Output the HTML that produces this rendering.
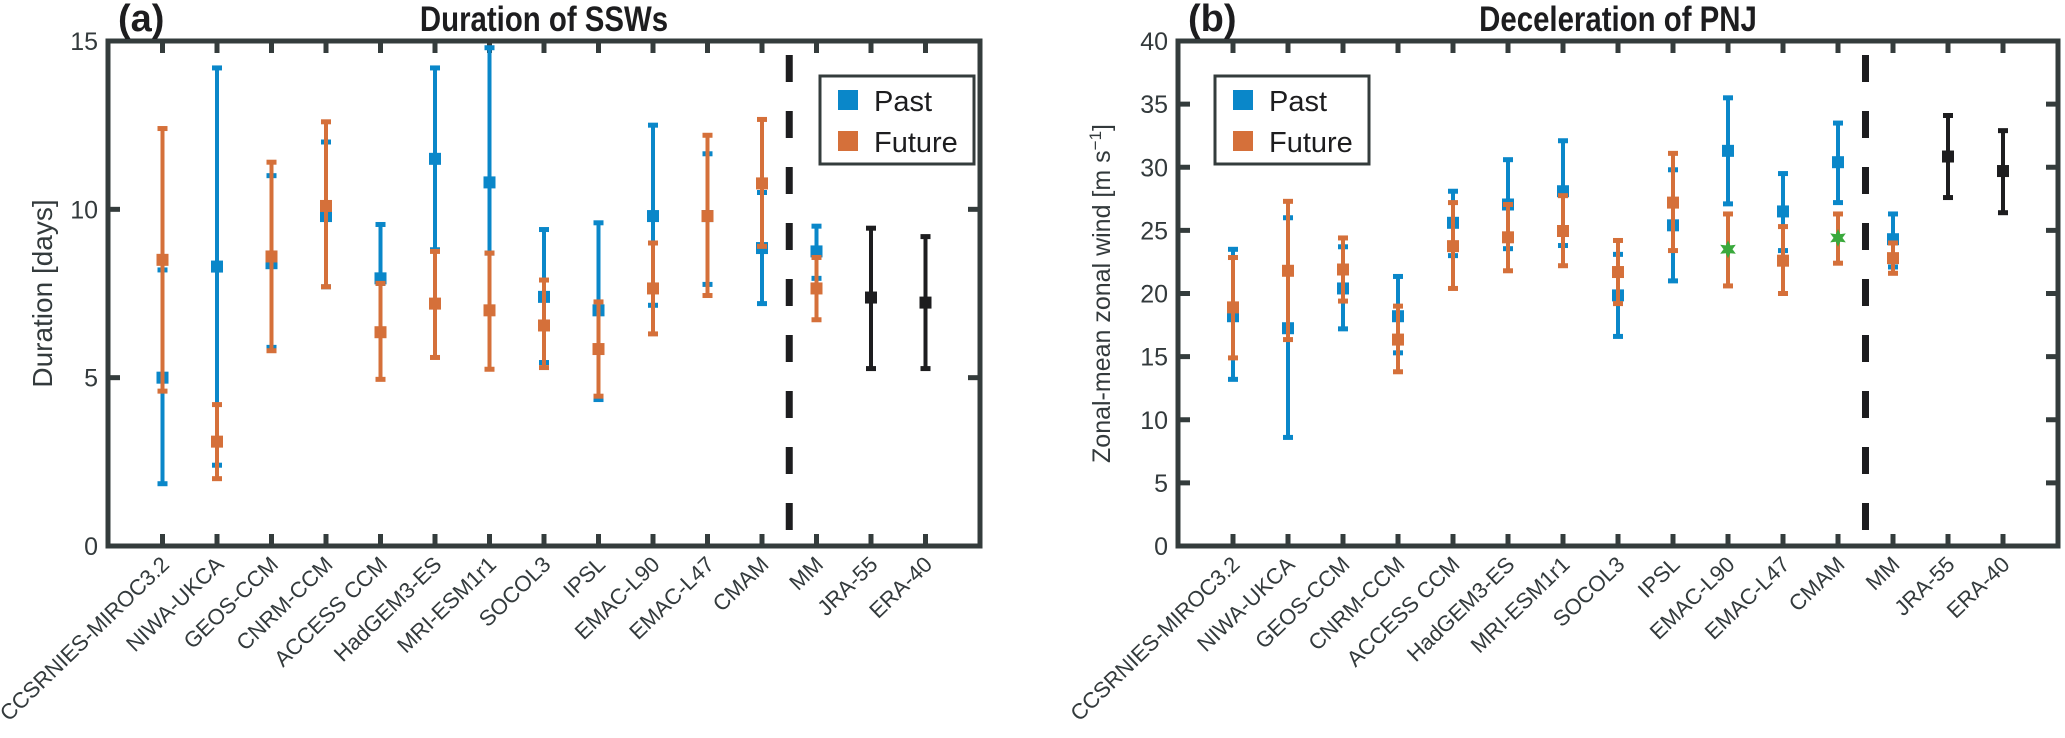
<!DOCTYPE html>
<html><head><meta charset="utf-8"><style>
html,body{margin:0;padding:0;background:#fff;}
svg{display:block;font-family:"Liberation Sans",sans-serif;}
</style></head><body>
<svg id="fig" width="2065" height="738" viewBox="0 0 2065 738" xmlns="http://www.w3.org/2000/svg"></svg>
<script>
const categories=["CCSRNIES-MIROC3.2","NIWA-UKCA","GEOS-CCM","CNRM-CCM","ACCESS CCM","HadGEM3-ES","MRI-ESM1r1","SOCOL3","IPSL","EMAC-L90","EMAC-L47","CMAM","MM","JRA-55","ERA-40"];
// Panel (a) duration
const aPastMean=[5.0,8.3,8.4,9.8,7.95,11.5,10.8,7.4,7.0,9.8,9.8,8.85,8.75,null,null];
const aPastHi=[8.2,14.2,11.0,12.0,9.55,14.2,14.8,9.4,9.6,12.5,11.65,10.5,9.5,null,null];
const aPastLo=[1.85,2.4,5.9,7.7,7.8,8.8,8.7,5.45,4.35,7.15,7.77,7.2,7.95,null,null];
const aFutMean=[8.5,3.1,8.6,10.1,6.35,7.2,7.0,6.55,5.85,7.65,9.8,10.77,7.65,null,null];
const aFutHi=[12.4,4.2,11.4,12.6,7.8,8.75,8.7,7.9,7.25,9.0,12.2,12.67,8.57,null,null];
const aFutLo=[4.6,2.0,5.8,7.7,4.95,5.6,5.25,5.3,4.45,6.3,7.44,8.9,6.72,null,null];
const aObsMean=[null,null,null,null,null,null,null,null,null,null,null,null,null,7.38,7.23];
const aObsHi=[null,null,null,null,null,null,null,null,null,null,null,null,null,9.44,9.19];
const aObsLo=[null,null,null,null,null,null,null,null,null,null,null,null,null,5.27,5.27];
const aTicks=[0,5,10,15];
// Panel (b) deceleration
const bPastMean=[18.2,17.25,20.4,18.2,25.6,27.05,28.1,19.85,25.4,31.3,26.5,30.4,24.3,null,null];
const bPastHi=[23.5,26.0,23.7,21.35,28.1,30.6,32.1,23.1,29.8,35.5,29.5,33.5,26.3,null,null];
const bPastLo=[13.2,8.6,17.2,15.3,23.0,23.55,23.8,16.6,21.0,27.1,23.4,27.2,22.1,null,null];
const bFutMean=[18.9,21.8,21.9,16.35,23.75,24.45,24.95,21.7,27.2,23.5,22.6,24.4,22.8,null,null];
const bFutHi=[22.85,27.3,24.4,19.0,27.2,27.05,27.75,24.2,31.1,26.3,25.3,26.3,24.0,null,null];
const bFutLo=[14.9,16.35,19.4,13.8,20.4,21.8,22.2,19.2,23.4,20.6,20.0,22.4,21.6,null,null];
const bStar=[false,false,false,false,false,false,false,false,false,true,false,true,false,false,false];
const bObsMean=[null,null,null,null,null,null,null,null,null,null,null,null,null,30.85,29.7];
const bObsHi=[null,null,null,null,null,null,null,null,null,null,null,null,null,34.1,32.9];
const bObsLo=[null,null,null,null,null,null,null,null,null,null,null,null,null,27.6,26.4];
const bTicks=[0,5,10,15,20,25,30,35,40];

const NS="http://www.w3.org/2000/svg";
const svg=document.getElementById('fig');
function mk(tag,attrs,parent){const e=document.createElementNS(NS,tag);for(const k in attrs)e.setAttribute(k,attrs[k]);(parent||svg).appendChild(e);return e;}
const BLUE="#0a87c9",ORANGE="#d5703a",BLACK="#1d1d1f",GREEN="#3aa93c",AX="#343c3c";

function panel(o){
  const g=mk('g',{});
  
  
  const L=o.left,R=o.right,T=41,B=546;
  const xs=i=>L+(i+1)*(R-L)/16;
  const ys=v=>B-(v-o.ymin)/(o.ymax-o.ymin)*(B-T);
  const box=mk('rect',{x:L,y:T,width:R-L,height:B-T,fill:'none',stroke:AX,'stroke-width':5},g);
  
  
  categories.forEach((c,i)=>{
    const x=xs(i);
    mk('line',{x1:x,x2:x,y1:B,y2:B-12,stroke:AX,'stroke-width':5},g);
    mk('line',{x1:x,x2:x,y1:T,y2:T+12,stroke:AX,'stroke-width':5},g);
    const t=mk('text',{x:0,y:0,'font-size':22,fill:'#333a3c','text-anchor':'end',transform:`translate(${x+8},${B+20}) rotate(-44)`},g);
    t.textContent=c;
    
    
  });
  o.ticks.forEach(v=>{
    const y=ys(v);
    mk('line',{x1:L,x2:L+12,y1:y,y2:y,stroke:AX,'stroke-width':5},g);
    mk('line',{x1:R,x2:R-12,y1:y,y2:y,stroke:AX,'stroke-width':5},g);
    const t=mk('text',{x:L-10,y:y+9,'font-size':25,fill:'#333a3c','text-anchor':'end'},g);
    t.textContent=v;
    
    
  });
  const dx=xs(11.5);
  const dl=mk('line',{x1:dx,x2:dx,y1:T,y2:B,stroke:BLACK,'stroke-width':7,'stroke-dasharray':'27 29','stroke-dashoffset':'-14'},g);
  
  
  function eb(i,m,hi,lo,col,nm,star){
    if(m==null)return;
    const x=xs(i);
    const eg=mk('g',{},g);
    
    
    mk('line',{x1:x,x2:x,y1:ys(hi),y2:ys(lo),stroke:col,'stroke-width':4},eg);
    mk('line',{x1:x-5,x2:x+5,y1:ys(hi),y2:ys(hi),stroke:col,'stroke-width':5},eg);
    mk('line',{x1:x-5,x2:x+5,y1:ys(lo),y2:ys(lo),stroke:col,'stroke-width':5},eg);
    if(star){
      const y=ys(m),r=9,r2=4.5;let p=[];
      for(let k=0;k<12;k++){const a=-Math.PI/2+k*Math.PI/6;const rr=k%2?r2:r;p.push((x+rr*Math.cos(a)).toFixed(1)+','+(y+rr*Math.sin(a)).toFixed(1));}
      mk('polygon',{points:p.join(' '),fill:GREEN},eg);
    } else mk('rect',{x:x-6,y:ys(m)-6,width:12,height:12,fill:col},eg);
  }
  categories.forEach((c,i)=>{
    eb(i,o.pm[i],o.ph[i],o.pl[i],BLUE,'past-errorbar',false);
    eb(i,o.fm[i],o.fh[i],o.fl[i],ORANGE,'future-errorbar',o.star?o.star[i]:false);
    eb(i,o.om[i],o.oh[i],o.ol[i],BLACK,'reanalysis-errorbar',false);
  });
  const lg=mk('g',{},g);
  
  
  mk('rect',{x:o.lx,y:76,width:154,height:88,fill:'#fff',stroke:AX,'stroke-width':3},lg);
  mk('rect',{x:o.lx+18,y:90,width:20,height:20,fill:BLUE},lg);
  mk('rect',{x:o.lx+18,y:131,width:20,height:20,fill:ORANGE},lg);
  const t1=mk('text',{x:o.lx+54,y:111,'font-size':29,fill:'#1d1d1f'},lg);t1.textContent='Past';
  
  
  const t2=mk('text',{x:o.lx+54,y:152,'font-size':29,fill:'#1d1d1f'},lg);t2.textContent='Future';
  
  
  const pl=mk('text',{x:L+10,y:31,'font-size':38,'font-weight':'bold',fill:'#1d1d1f'},g);pl.textContent=o.label;
  
  
  const ti=mk('text',{x:((L+R)/2)/0.84,y:31,'font-size':35,'font-weight':'bold','text-anchor':'middle',fill:'#1d1d1f',transform:`scale(0.84,1)`},g);
  ti.textContent=o.title;
  
  
  const yt=mk('text',{x:0,y:0,'font-size':o.ytSize,fill:'#333a3c','text-anchor':'middle',transform:`translate(${o.ytx},${(T+B)/2}) rotate(-90)`},g);
  yt.innerHTML=o.ytitle;
  
  
}
panel({name:'panel-a-duration',left:108,right:980,ymin:0,ymax:15,ticks:aTicks,
  pm:aPastMean,ph:aPastHi,pl:aPastLo,fm:aFutMean,fh:aFutHi,fl:aFutLo,om:aObsMean,oh:aObsHi,ol:aObsLo,
  lx:820,label:'(a)',title:'Duration of SSWs',ytitle:'Duration [days]',ytx:52,ytSize:28});
panel({name:'panel-b-deceleration',left:1178,right:2058,ymin:0,ymax:40,ticks:bTicks,
  pm:bPastMean,ph:bPastHi,pl:bPastLo,fm:bFutMean,fh:bFutHi,fl:bFutLo,om:bObsMean,oh:bObsHi,ol:bObsLo,star:bStar,
  lx:1215,label:'(b)',title:'Deceleration of PNJ',ytitle:'Zonal-mean zonal wind [m s<tspan dy="-9" font-size="17">−1</tspan><tspan dy="9">]</tspan>',ytx:1110,ytSize:25});
</script>
</body></html>
